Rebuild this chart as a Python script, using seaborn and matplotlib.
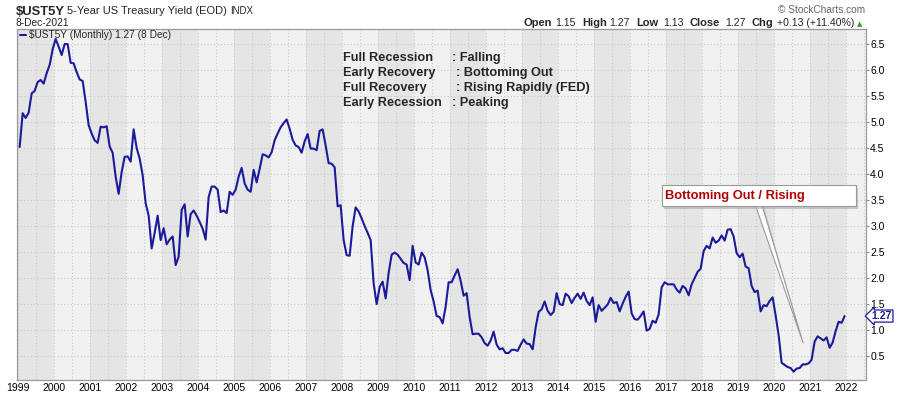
import numpy as np
import pandas as pd
import seaborn as sns
import matplotlib.pyplot as plt
from matplotlib.patches import Rectangle
from matplotlib.ticker import FormatStrFormatter, MultipleLocator

# month-end 5-year treasury yield (%), Jan..Dec
y1999 = [4.52, 5.17, 5.08, 5.18, 5.55, 5.60, 5.77, 5.81, 5.74, 5.94, 6.10, 6.40]
y2000 = [6.60, 6.45, 6.29, 6.50, 6.50, 6.14, 6.13, 5.96, 5.82, 5.79, 5.39, 4.94]
y2001 = [4.78, 4.65, 4.60, 4.91, 4.90, 4.92, 4.53, 4.41, 3.95, 3.62, 4.04, 4.33]
y2002 = [4.34, 4.24, 4.86, 4.50, 4.30, 3.98, 3.44, 3.20, 2.57, 2.87, 3.20, 2.73]
y2003 = [2.96, 2.65, 2.74, 2.80, 2.25, 2.41, 3.31, 3.42, 2.80, 3.23, 3.30, 3.20]
y2004 = [3.08, 2.95, 2.74, 3.56, 3.76, 3.76, 3.70, 3.27, 3.30, 3.25, 3.66, 3.60]
y2005 = [3.70, 3.95, 4.12, 3.82, 3.70, 3.66, 4.08, 3.84, 4.10, 4.38, 4.36, 4.32]
y2006 = [4.42, 4.65, 4.78, 4.90, 4.98, 5.05, 4.87, 4.66, 4.55, 4.52, 4.41, 4.63]
y2007 = [4.77, 4.49, 4.49, 4.46, 4.83, 4.86, 4.55, 4.21, 4.20, 4.13, 3.38, 3.40]
y2008 = [2.73, 2.44, 2.43, 3.00, 3.36, 3.28, 3.15, 3.00, 2.87, 2.73, 1.90, 1.50]
y2009 = [1.83, 1.93, 1.61, 2.10, 2.45, 2.49, 2.45, 2.37, 2.29, 2.26, 1.96, 2.62]
y2010 = [2.30, 2.26, 2.49, 2.40, 2.15, 1.77, 1.55, 1.27, 1.25, 1.13, 1.45, 1.92]
y2011 = [1.92, 2.05, 2.17, 1.95, 1.66, 1.71, 1.25, 0.92, 0.93, 0.93, 0.86, 0.75]
y2012 = [0.70, 0.80, 0.97, 0.72, 0.63, 0.65, 0.56, 0.56, 0.62, 0.62, 0.60, 0.72]
y2013 = [0.82, 0.74, 0.73, 0.63, 1.05, 1.35, 1.40, 1.55, 1.37, 1.29, 1.35, 1.71]
y2014 = [1.50, 1.48, 1.70, 1.65, 1.52, 1.62, 1.70, 1.60, 1.72, 1.56, 1.48, 1.63]
y2015 = [1.16, 1.48, 1.37, 1.43, 1.49, 1.62, 1.52, 1.54, 1.36, 1.51, 1.64, 1.74]
y2016 = [1.32, 1.21, 1.20, 1.27, 1.36, 0.99, 1.02, 1.18, 1.14, 1.30, 1.82, 1.92]
y2017 = [1.88, 1.88, 1.88, 1.78, 1.72, 1.85, 1.80, 1.67, 1.88, 2.00, 2.12, 2.18]
y2018 = [2.52, 2.62, 2.57, 2.78, 2.68, 2.72, 2.82, 2.72, 2.93, 2.94, 2.80, 2.48]
y2019 = [2.40, 2.47, 2.22, 2.19, 1.85, 1.73, 1.76, 1.36, 1.48, 1.46, 1.56, 1.63]
y2020 = [1.28, 0.90, 0.37, 0.33, 0.29, 0.27, 0.20, 0.26, 0.27, 0.34, 0.34, 0.36]
y2021 = [0.43, 0.78, 0.88, 0.84, 0.80, 0.86, 0.66, 0.76, 0.98, 1.16, 1.14, 1.27]

year_ticks = list(range(1999, 2023))
y_ticks = [0.5, 1.0, 1.5, 2.0, 2.5, 3.0, 3.5, 4.0, 4.5, 5.0, 5.5, 6.0, 6.5]

phase_names = ["Full Recession", "Early Recovery", "Full Recovery", "Early Recession"]
phase_moves = [": Falling", ": Bottoming Out", ": Rising Rapidly (FED)", ": Peaking"]

values = (y1999 + y2000 + y2001 + y2002 + y2003 + y2004 + y2005 + y2006 + y2007
          + y2008 + y2009 + y2010 + y2011 + y2012 + y2013 + y2014 + y2015 + y2016
          + y2017 + y2018 + y2019 + y2020 + y2021)
months = pd.date_range("1999-01-01", periods=len(values), freq="MS")
df = pd.DataFrame({"t": months.year + (months.month - 0.45) / 12, "yld": values})

sns.set_style("white")
plt.rcParams["font.family"] = ["Liberation Sans", "DejaVu Sans"]

W, H = 900, 396
fig = plt.figure(figsize=(W / 100, H / 100), dpi=100)
fig.patch.set_facecolor("white")

def fx(x):
    return x / W

def fy(y):
    return 1 - y / H

ax = fig.add_axes([fx(17), fy(380), (866 - 17) / W, (380 - 29) / H])
ax.set_facecolor("#f1f1f1")

# alternating year bands
for yr in year_ticks:
    if yr % 2 == 1:
        ax.axvspan(yr, yr + 1, color="#e5e5e5", lw=0, zorder=0)

navy = "#1b1b9a"
sns.lineplot(data=df, x="t", y="yld", color=navy, linewidth=1.5, ax=ax,
             label="$UST5Y (Monthly) 1.27 (8 Dec)", zorder=3)

ax.set_xlim(1998.972, 2022.556)
ax.set_ylim(0.04, 6.79)
ax.set_xlabel("")
ax.set_ylabel("")

ax.set_xticks(year_ticks)
ax.set_xticklabels([str(y) for y in year_ticks])
ax.xaxis.set_minor_locator(MultipleLocator(0.5))
ax.yaxis.tick_right()
ax.set_yticks(y_ticks)
ax.yaxis.set_major_formatter(FormatStrFormatter("%.1f"))
ax.tick_params(axis="x", which="both", length=0, labelsize=7.5, pad=2.5, colors="#000000")
ax.tick_params(axis="y", length=2.5, width=0.8, color="#8a8a8a", labelsize=7.5, pad=0.5,
               labelcolor="#000000")

ax.grid(True, which="both", axis="x", color="#c9c9c9", linestyle=(0, (1, 2)), linewidth=0.8)
ax.grid(True, which="major", axis="y", color="#c9c9c9", linestyle=(0, (1, 2)), linewidth=0.8)
ax.set_axisbelow(True)

for side in ["left", "top"]:
    ax.spines[side].set_color("#9a9a9a")
    ax.spines[side].set_linewidth(0.9)
for side in ["right", "bottom"]:
    ax.spines[side].set_color("#9a9a9a")
    ax.spines[side].set_linewidth(0.9)
    ax.spines[side].set_linestyle((0, (1, 1)))

ax.legend(loc="center left", bbox_to_anchor=(fx(20), fy(35.5)), bbox_transform=fig.transFigure,
          frameon=False, fontsize=7.3, handlelength=0.6, handletextpad=0.3,
          borderpad=0, borderaxespad=0)

# header
fig.text(fx(16), fy(15), "$UST5Y", fontsize=9.4, fontweight="bold", va="baseline")
fig.text(fx(67), fy(14.5), "5-Year US Treasury Yield (EOD)", fontsize=8, va="baseline")
fig.text(fx(230), fy(14.5), "INDX", fontsize=7, va="baseline")
fig.text(fx(16), fy(26), "8-Dec-2021", fontsize=7.4, va="baseline")
fig.text(fx(865), fy(13), "\u00a9 StockCharts.com", fontsize=7.3, color="#666666",
         ha="right", va="baseline")

quote = [(523, "Open", True), (555, "1.15", False), (582, "High", True), (609, "1.27", False),
         (636, "Low", True), (663, "1.13", False), (690, "Close", True), (725, "1.27", False),
         (752, "Chg", True), (777, "+0.13 (+11.40%)", False)]
for x, s, bold in quote:
    fig.text(fx(x), fy(26), s, fontsize=8 if bold else 7.6,
             fontweight="bold" if bold else "normal", va="baseline")
fig.text(fx(857), fy(26), "\u25b2", fontsize=5, color="#2a9d2a", va="baseline",
         family="DejaVu Sans")

# phase notes
colon_x = [452, 456, 456, 452]
for i, (name, move) in enumerate(zip(phase_names, phase_moves)):
    base = 60.7 + 15 * i
    fig.text(fx(343), fy(base), name, fontsize=9.2, fontweight="bold", va="baseline")
    fig.text(fx(colon_x[i]), fy(base), move, fontsize=9.2, fontweight="bold", va="baseline")

# callout box with wedge pointer
tip = (2020.81, 0.75)
ax.annotate("", xy=tip, xycoords="data", xytext=(761, H - 208), textcoords="figure pixels",
            arrowprops=dict(arrowstyle="wedge,tail_width=0.45", fc="#9a9a9a", ec="none",
                            alpha=0.5, shrinkA=0, shrinkB=0), zorder=4,
            annotation_clip=False)
ax.annotate("", xy=tip, xycoords="data", xytext=(759, H - 206), textcoords="figure pixels",
            arrowprops=dict(arrowstyle="wedge,tail_width=0.45", fc="white", ec="#9a9a9a",
                            lw=0.8, shrinkA=0, shrinkB=0), zorder=5,
            annotation_clip=False)
fig.patches.append(Rectangle((fx(664), fy(208.5)), 194 / W, 21 / H, transform=fig.transFigure,
                             fc="#a8a8a8", ec="none", alpha=0.6, zorder=6))
fig.patches.append(Rectangle((fx(662), fy(206)), 194 / W, 21 / H, transform=fig.transFigure,
                             fc="white", ec="#9a9a9a", lw=0.8, zorder=7))
fig.text(fx(665), fy(199.5), "Bottoming Out / Rising", fontsize=9.3, fontweight="bold",
         color="#b00000", va="baseline", zorder=8)

# last value flag on the right axis
ax.annotate("1.27", xy=(1, 1.27), xycoords=("axes fraction", "data"), xytext=(4, 0),
            textcoords="offset points", fontsize=7.5, fontweight="bold", color=navy,
            va="center", ha="left", annotation_clip=False,
            bbox=dict(boxstyle="larrow,pad=0.1", fc="white", ec=navy, lw=0.9))

fig.savefig("out.png", dpi=100)
